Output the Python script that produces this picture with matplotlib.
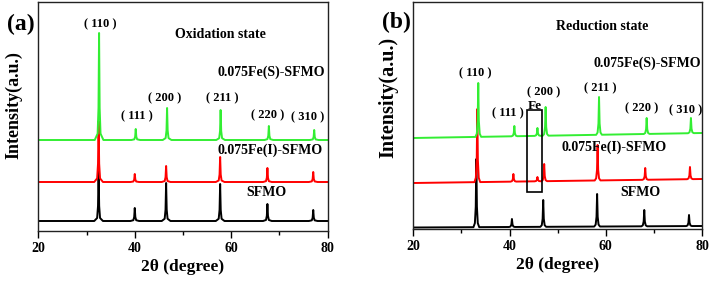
import matplotlib.pyplot as plt
from matplotlib.ticker import MultipleLocator
from matplotlib.patches import Rectangle

# Peak lists: (2theta, peak top), baselines as (start, end)
# Panel (a) - oxidation state
a_black_base = [10, 10]
a_black_pos = [32.5, 40.0, 46.5, 57.7, 67.5, 77.0]
a_black_top = [60, 23, 48, 47, 27, 21]
a_red_base = [49, 49]
a_red_pos = [32.5, 40.0, 46.5, 57.7, 67.5, 77.0]
a_red_top = [110, 57, 65, 74, 63, 59]
a_green_base = [91, 91]
a_green_pos = [32.6, 40.2, 46.7, 57.8, 67.8, 77.2]
a_green_top = [198, 102, 123, 121, 105, 101]

# Panel (b) - reduction state
b_black_base = [1.5, 3]
b_black_pos = [33.1, 40.5, 47.0, 58.2, 68.0, 77.3]
b_black_top = [70, 10, 29, 35, 19, 14]
b_red_base = [46, 50]
b_red_pos = [33.3, 40.8, 45.8, 47.2, 58.3, 68.2, 77.5]
b_red_top = [120, 55, 52, 65, 84, 61, 62]
b_green_base = [91, 96]
b_green_pos = [33.5, 41.0, 45.8, 47.5, 58.6, 68.5, 77.7]
b_green_top = [146, 103, 101, 122, 132, 111, 111]

peak_labels = ['( 110 )', '( 111 )', '( 200 )', '( 211 )', '( 220 )', '( 310 )']
samples = ['0.075Fe(S)-SFMO', '0.075Fe(I)-SFMO', 'SFMO']

FONT = ['Liberation Serif', 'Noto Sans CJK SC']
W, H = 714, 283


def pattern(base, pos, top, half=0.9):
    # polyline through baseline and peak vertices
    def b_at(x):
        return base[0] + (base[1] - base[0]) * (x - 20) / 60
    xs, ys = [20], [base[0]]
    for p, t in zip(pos, top):
        b = b_at(p)
        xs += [p - half, p - 0.3, p - 0.12, p, p + 0.12, p + 0.3, p + half]
        ys += [b_at(p - half), b + 0.06 * (t - b), b + 0.3 * (t - b), t,
               b + 0.3 * (t - b), b + 0.06 * (t - b), b_at(p + half)]
    xs.append(80)
    ys.append(base[1])
    return xs, ys


fig = plt.figure(figsize=(W / 100, H / 100), dpi=100)


def make_axes(left, right, top, bottom):
    return fig.add_axes([left / W, 1 - bottom / H, (right - left) / W, (bottom - top) / H])


def style(ax, ytop, ylabel_size, ylab_xy):
    ax.set_xlim(20, 80)
    ax.set_ylim(0, ytop)
    ax.set_yticks([])
    ax.xaxis.set_major_locator(MultipleLocator(20))
    ax.xaxis.set_minor_locator(MultipleLocator(10))
    ax.tick_params(axis='x', which='major', direction='out', length=5, width=1, pad=3)
    ax.tick_params(axis='x', which='minor', direction='out', length=3, width=1)
    for lab in ax.get_xticklabels():
        lab.set_fontfamily(FONT)
        lab.set_fontweight('bold')
        lab.set_fontsize(10)
    for s in ax.spines.values():
        s.set_linewidth(1.0)
        s.set_color('#222222')
    ax.set_xlabel('2θ (degree)', family=FONT, fontweight='bold', fontsize=12.5, labelpad=3)
    ax.set_ylabel('Intensity(a.u.)', family=FONT, fontweight='bold', fontsize=ylabel_size)
    ax.yaxis.set_label_coords(*ylab_xy)


ax1 = make_axes(38.3, 327.7, 2, 231)
for base, pos, top, c in [(a_black_base, a_black_pos, a_black_top, 'black'),
                          (a_red_base, a_red_pos, a_red_top, '#ff0000'),
                          (a_green_base, a_green_pos, a_green_top, '#33ee33')]:
    x, y = pattern(base, pos, top, half=0.9)
    ax1.plot(x, y, color=c, lw=1.4)
style(ax1, 229, 13, (-0.056, 0.55))

txt = dict(family=FONT, fontweight='bold', ha='center', va='center')
a_lab_xy = [(32.8, 207), (40.5, 115), (46.2, 133), (58.1, 133), (67.6, 116), (75.9, 114)]
for (x, y), s in zip(a_lab_xy, peak_labels):
    ax1.text(x, y, s, fontsize=9, **txt)
ax1.text(57.7, 196, 'Oxidation state', fontsize=10, **txt)
for (x, y), s in zip([(68.2, 159), (68.0, 81), (67.3, 38)], samples):
    ax1.text(x, y, s, fontsize=10, **txt)

ax2 = make_axes(413.3, 702, 2, 229)
for base, pos, top, c in [(b_black_base, b_black_pos, b_black_top, 'black'),
                          (b_red_base, b_red_pos, b_red_top, '#ff0000'),
                          (b_green_base, b_green_pos, b_green_top, '#33ee33')]:
    x, y = pattern(base, pos, top, half=0.6)
    ax2.plot(x, y, color=c, lw=1.4)
style(ax2, 227, 14.5, (-0.053, 0.58))

b_lab_xy = [(32.8, 156), (39.7, 116), (47.0, 137), (58.8, 141), (67.5, 121), (76.5, 119)]
for (x, y), s in zip(b_lab_xy, peak_labels):
    ax2.text(x, y, s, fontsize=9, **txt)
ax2.text(45.3, 123, 'Fe', fontsize=9.5, **txt)
ax2.text(59.2, 203, 'Reduction state', fontsize=10, **txt)
for (x, y), s in zip([(68.7, 166), (61.8, 82), (67.1, 36)], samples):
    ax2.text(x, y, s, fontsize=10, **txt)
ax2.add_patch(Rectangle((43.6, 37), 3.1, 82, fill=False, ec='black', lw=1.2, zorder=5))

fig.text(21 / W, 1 - 24 / H, '(a)', family=FONT, fontweight='bold', fontsize=17, ha='center', va='center')
fig.text(396 / W, 1 - 22 / H, '(b)', family=FONT, fontweight='bold', fontsize=17, ha='center', va='center')

fig.savefig('out.png', dpi=100)
